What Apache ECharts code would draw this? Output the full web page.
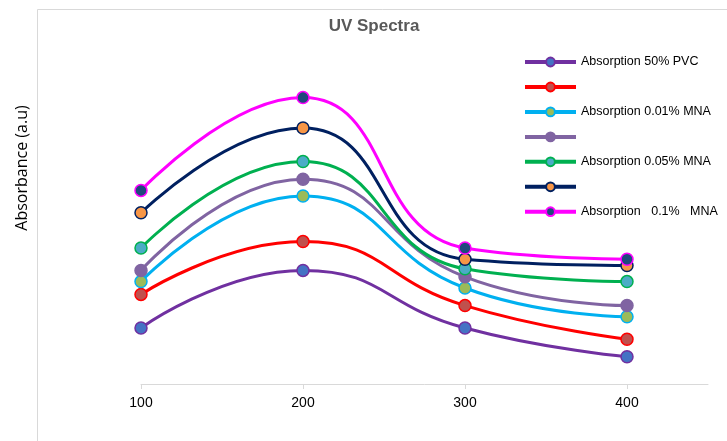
<!DOCTYPE html>
<html>
<head>
<meta charset="utf-8">
<script src="https://cdn.jsdelivr.net/npm/echarts@6/dist/echarts.min.js"></script>
<style>html,body{margin:0;padding:0;background:#fff;}#c{width:727px;height:441px;}</style>
</head>
<body>
<div id="c"></div>
<script>
const wavelengths = [100, 200, 300, 400];
const xTicks = [100, 200, 300, 400];
const seriesNames = ['Absorption 50% PVC', 's2', 'Absorption 0.01% MNA', 's4', 'Absorption 0.05% MNA', 's6', 'Absorption   0.1%   MNA'];
const legendLabels = ['Absorption 50% PVC', '', 'Absorption 0.01% MNA', '', 'Absorption 0.05% MNA', '', 'Absorption   0.1%   MNA'];
const pvc50 = [0.35, 0.71, 0.35, 0.17];
const series2 = [0.56, 0.89, 0.49, 0.28];
const mna001 = [0.64, 1.175, 0.60, 0.42];
const series4 = [0.71, 1.28, 0.67, 0.49];
const mna005 = [0.85, 1.39, 0.72, 0.64];
const series6 = [1.07, 1.60, 0.78, 0.74];
const mna01 = [1.21, 1.79, 0.85, 0.78];
const allValues = [pvc50, series2, mna001, series4, mna005, series6, mna01];
const lineColors = ['#7030A0', '#FF0000', '#00B0F0', '#8064A2', '#00B050', '#002060', '#FF00FF'];
const markerFills = ['#4472C4', '#C0504D', '#9BBB59', '#8064A2', '#4BACC6', '#F79646', '#1F497D'];

const chart = echarts.init(document.getElementById('c'));
const series = allValues.map((vals, i) => ({
  name: seriesNames[i],
  type: 'line',
  smooth: 0.5,
  data: vals.map((v, j) => [wavelengths[j], v]),
  symbol: 'circle',
  symbolSize: 12,
  lineStyle: { color: lineColors[i], width: 3 },
  itemStyle: { color: markerFills[i], borderColor: lineColors[i], borderWidth: 1.5 },
  z: 2 + i
}));

chart.setOption({
  animation: false,
  backgroundColor: '#fff',
  graphic: [
    { type: 'rect', shape: { x: 37.5, y: 9.5, width: 900, height: 600 }, style: { fill: 'none', stroke: '#d9d9d9', lineWidth: 1 }, silent: true, z: -10 },
    { type: 'text', x: 22, y: 168, rotation: Math.PI / 2, style: { text: 'Absorbance (a.u)', fill: '#000', font: '16px "Open Sans"', align: 'center', verticalAlign: 'middle' } }
  ],
  title: {
    text: 'UV Spectra',
    left: 369, top: 13,
    textAlign: 'center',
    textStyle: { fontFamily: 'Liberation Sans Narrow, Liberation Sans', fontWeight: 'bold', fontSize: 17, color: '#595959' }
  },
  legend: {
    orient: 'vertical',
    left: 523, top: 55.5,
    padding: 0,
    itemWidth: 51, itemHeight: 11,
    itemGap: 13,
    data: seriesNames,
    lineStyle: { width: 4 },
    formatter: (name) => legendLabels[seriesNames.indexOf(name)],
    textStyle: { fontFamily: 'Liberation Sans', fontSize: 12.5, color: '#000' }
  },
  grid: { left: 141, right: 19, top: 64, bottom: 57 },
  xAxis: {
    type: 'value', min: 100, max: 450, interval: 50,
    axisLine: { show: true, lineStyle: { color: '#d9d9d9', width: 1 } },
    axisTick: { show: true, customValues: xTicks, length: 5, lineStyle: { color: '#d9d9d9' } },
    axisLabel: { customValues: xTicks, color: '#000', fontFamily: 'Liberation Sans Narrow, Liberation Sans', fontSize: 14, margin: 12 },
    splitLine: { show: false }
  },
  yAxis: {
    type: 'value', min: 0, max: 2,
    show: false
  },
  series: series
});
</script>
</body>
</html>
